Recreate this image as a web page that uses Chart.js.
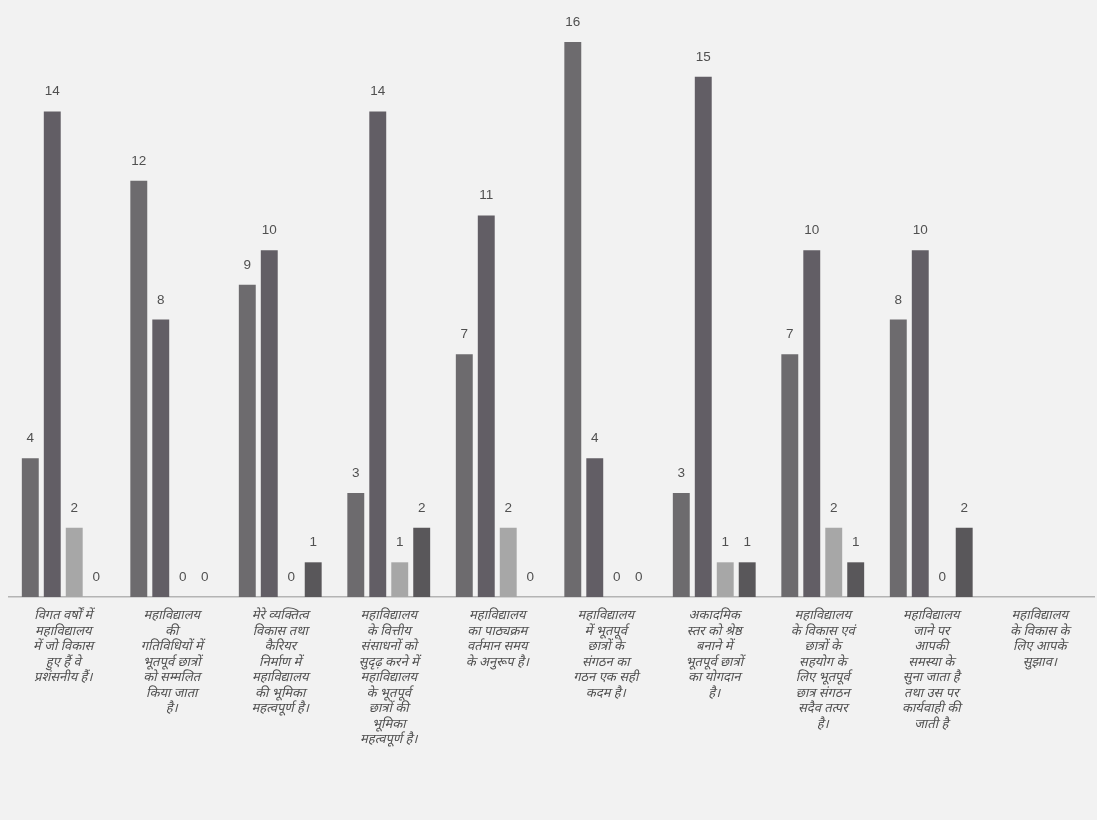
<!DOCTYPE html>
<html>
<head>
<meta charset="utf-8">
<script src="https://cdn.jsdelivr.net/npm/chart.js@4"></script>
<style>
  html, body { margin: 0; padding: 0; background: #f2f2f2; }
  #wrap { position: relative; width: 1097px; height: 820px; }
</style>
</head>
<body>
<div id="wrap"><canvas id="chart"></canvas></div>
<script>
// Libellés des catégories (texte hindi, retour à la ligne comme dans l'original)
const categories = [
  ["विगत वर्षों में", "महाविद्यालय", "में जो विकास", "हुए हैं वे", "प्रशंसनीय हैं।"],
  ["महाविद्यालय", "की", "गतिविधियों में", "भूतपूर्व छात्रों", "को सम्मलित", "किया जाता", "है।"],
  ["मेरे व्यक्तित्व", "विकास तथा", "कैरियर", "निर्माण में", "महाविद्यालय", "की भूमिका", "महत्वपूर्ण है।"],
  ["महाविद्यालय", "के वित्तीय", "संसाधनों को", "सुदृढ़ करने में", "महाविद्यालय", "के भूतपूर्व", "छात्रों की", "भूमिका", "महत्वपूर्ण है।"],
  ["महाविद्यालय", "का पाठ्यक्रम", "वर्तमान समय", "के अनुरूप है।"],
  ["महाविद्यालय", "में भूतपूर्व", "छात्रों के", "संगठन का", "गठन एक सही", "कदम है।"],
  ["अकादमिक", "स्तर को श्रेष्ठ", "बनाने में", "भूतपूर्व छात्रों", "का योगदान", "है।"],
  ["महाविद्यालय", "के विकास एवं", "छात्रों के", "सहयोग के", "लिए भूतपूर्व", "छात्र संगठन", "सदैव तत्पर", "है।"],
  ["महाविद्यालय", "जाने पर", "आपकी", "समस्या के", "सुना जाता है", "तथा उस पर", "कार्यवाही की", "जाती है"],
  ["महाविद्यालय", "के विकास के", "लिए आपके", "सुझाव।"],
];

// Valeurs des quatre séries (dernière catégorie sans barres)
const serie1 = [4, 12, 9, 3, 7, 16, 3, 7, 8, null];
const serie2 = [14, 8, 10, 14, 11, 4, 15, 10, 10, null];
const serie3 = [2, 0, 0, 1, 2, 0, 1, 2, 0, null];
const serie4 = [0, 0, 1, 2, 0, 0, 1, 1, 2, null];

const COLORS = ["#6d6b6e", "#625e65", "#a7a7a7", "#59575a"];

// étiquettes de valeur au-dessus de chaque barre
const valueLabels = {
  id: "valueLabels",
  afterDatasetsDraw(chart) {
    const ctx = chart.ctx;
    ctx.save();
    ctx.font = '13.5px "Liberation Sans", "Open Sans", sans-serif';
    ctx.fillStyle = "#505050";
    ctx.textAlign = "center";
    ctx.textBaseline = "alphabetic";
    chart.data.datasets.forEach((ds, i) => {
      chart.getDatasetMeta(i).data.forEach((bar, j) => {
        const v = ds.data[j];
        if (v == null) return;
        ctx.fillText(String(v), bar.x, bar.y - 16);
      });
    });
    ctx.restore();
  },
};

new Chart(document.getElementById("chart"), {
  type: "bar",
  data: {
    labels: categories,
    datasets: [serie1, serie2, serie3, serie4].map((d, i) => ({
      label: "S" + (i + 1),
      data: d,
      backgroundColor: COLORS[i],
      categoryPercentage: 0.81,
      barPercentage: 0.77,
    })),
  },
  options: {
    responsive: true,
    maintainAspectRatio: false,
    animation: false,
    layout: { padding: { top: 42, left: 9, right: 3, bottom: 0 } },
    plugins: {
      legend: { display: false },
      tooltip: { enabled: false },
    },
    scales: {
      y: { display: false, min: 0, max: 16 },
      x: {
        grid: { display: false },
        border: { display: true, color: "#b4b4b4", width: 1.5 },
        afterFit: (axis) => { axis.height = 223; },
        ticks: {
          color: "#505050",
          padding: 4,
          autoSkip: false,
          maxRotation: 0,
          font: {
            family: '"Noto Sans Devanagari", "Noto Sans", sans-serif',
            style: "italic",
            size: 13,
            lineHeight: "15.5px",
          },
        },
      },
    },
  },
  plugins: [valueLabels],
});
</script>
</body>
</html>
